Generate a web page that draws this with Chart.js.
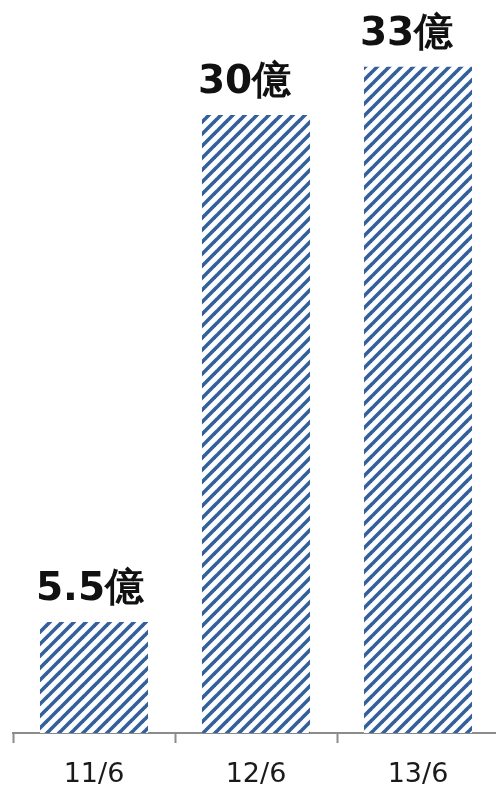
<!DOCTYPE html>
<html>
<head>
<meta charset="utf-8">
<script src="https://cdn.jsdelivr.net/npm/chart.js@4/dist/chart.umd.min.js"></script>
<style>
  html, body { margin: 0; padding: 0; background: #fff; overflow: hidden; }
  #wrap { width: 499px; height: 786px; }
</style>
</head>
<body>
<div id="wrap"><canvas id="grafico"></canvas></div>
<script>
// --- DATOS ---
const categorias = ['11/6', '12/6', '13/6'];
const valores = [5.5, 30.6, 33];
const etiquetas = ['5.5億', '30億', '33億'];

// --- PATRÓN DE RAYAS ---
function crearRayas() {
  const c = document.createElement('canvas');
  c.width = 12; c.height = 12;
  const ctx = c.getContext('2d');
  ctx.fillStyle = '#ffffff';
  ctx.fillRect(0, 0, 12, 12);
  ctx.strokeStyle = '#33609a';
  ctx.lineWidth = 3.6;
  [[-6, 6, 6, -6], [0, 12, 12, 0], [6, 18, 18, 6]].forEach(([x1, y1, x2, y2]) => {
    ctx.beginPath();
    ctx.moveTo(x1, y1);
    ctx.lineTo(x2, y2);
    ctx.stroke();
  });
  return ctx.createPattern(c, 'repeat');
}

// etiquetas encima de cada barra
const etiquetasBarras = {
  id: 'etiquetasBarras',
  afterDatasetsDraw(chart) {
    const ctx = chart.ctx;
    const meta = chart.getDatasetMeta(0);
    ctx.save();
    ctx.font = 'bold 39px "DejaVu Sans", Verdana, sans-serif';
    ctx.fillStyle = '#111';
    ctx.textAlign = 'left';
    ctx.textBaseline = 'alphabetic';
    meta.data.forEach((bar, i) => {
      ctx.fillText(etiquetas[i], bar.x - bar.width / 2 - 4, bar.y - 22);
    });
    ctx.restore();
  }
};

const grafico = new Chart(document.getElementById('grafico'), {
  type: 'bar',
  data: {
    labels: categorias,
    datasets: [{
      data: valores,
      backgroundColor: crearRayas(),
      borderWidth: 0,
      categoryPercentage: 0.667,
      barPercentage: 1
    }]
  },
  options: {
    responsive: true,
    maintainAspectRatio: false,
    animation: false,
    layout: { padding: { left: 13, right: 0, top: 0, bottom: 0 } },
    plugins: {
      legend: { display: false },
      tooltip: { enabled: false }
    },
    scales: {
      y: {
        display: false,
        min: 0,
        max: 36.3
      },
      x: {
        afterFit: (scale) => { scale.height = 53; },
        border: { display: true, color: '#8c8c8c', width: 2 },
        grid: {
          display: true,
          offset: true,
          drawOnChartArea: false,
          drawTicks: true,
          tickLength: 10,
          tickWidth: 2,
          tickColor: '#8c8c8c'
        },
        ticks: {
          color: '#1a1a1a',
          padding: 16,
          font: { family: '"DejaVu Sans", Verdana, sans-serif', size: 27 }
        }
      }
    }
  },
  plugins: [etiquetasBarras]
});
</script>
</body>
</html>
